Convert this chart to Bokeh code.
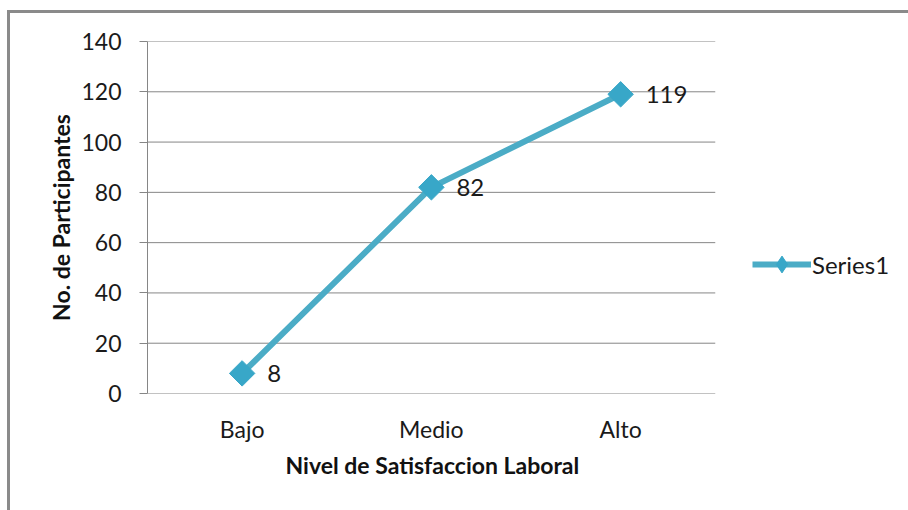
import math
from bokeh.plotting import figure
from bokeh.models import (ColumnDataSource, Range1d, FixedTicker, Legend, LegendItem,
                          LabelSet, Title)
from bokeh.core.properties import value
from bokeh.embed import file_html
from bokeh.resources import INLINE

# Data
categories = ["Bajo", "Medio", "Alto"]
participants = [8, 82, 119]
series_name = "Series1"
y_ticks = [0, 20, 40, 60, 80, 100, 120, 140]
x_title = "Nivel de Satisfaccion Laboral"
y_title = "No. de Participantes"

FONT = "Lato"
GRID = "#868686"
TEAL = "#4BACC6"
MARKER = "#38A7C8"
EDGE = "#8a8a8a"
TEXT = "#1a1a1a"

# Each category occupies one unit; the frame carries one extra unit on the
# right where the legend sits.
n_cat = len(categories)
x_pos = [i + 0.5 for i in range(n_cat)]

source = ColumnDataSource(dict(
    x=x_pos,
    val=participants,
    lbl=[str(v) for v in participants],
))
grid_src = ColumnDataSource(dict(
    x0=[0] * len(y_ticks), x1=[n_cat] * len(y_ticks), y=y_ticks,
))

p = figure(
    width=908, height=510,
    x_range=Range1d(0, n_cat + 1), y_range=Range1d(0, 140),
    output_backend="svg", toolbar_location=None,
    min_border_left=147, min_border_right=4,
    min_border_top=41, min_border_bottom=117,
    background_fill_color="white", border_fill_alpha=0,
)
# Chart-area edge on the left and top, painted behind the transparent canvas
p.styles = {
    "background": (
        f"linear-gradient({EDGE},{EDGE}) 7px 10px / 3px 700px no-repeat, "
        f"linear-gradient({EDGE},{EDGE}) 7px 10px / 1200px 3px no-repeat, white"
    )
}
p.outline_line_color = None
p.xgrid.grid_line_color = None
p.ygrid.grid_line_color = None

# Horizontal gridlines (the one at zero doubles as the category axis line)
p.segment("x0", "y", "x1", "y", source=grid_src, line_color=GRID, line_width=1)

# Value axis
yax = p.yaxis[0]
yax.ticker = FixedTicker(ticks=y_ticks)
yax.axis_label = y_title
yax.axis_line_color = GRID
yax.major_tick_line_color = GRID
yax.major_tick_out = 8
yax.major_tick_in = 0
yax.minor_tick_line_color = None
yax.major_label_standoff = 18
yax.axis_label_standoff = 3
yax.major_label_text_font = FONT
yax.major_label_text_font_size = "23px"
yax.major_label_text_color = TEXT
yax.axis_label_text_font = FONT
yax.axis_label_text_font_size = "23px"
yax.axis_label_text_font_style = "bold"
yax.axis_label_text_color = "#111111"

# Category axis: labels only
xax = p.xaxis[0]
xax.ticker = FixedTicker(ticks=x_pos)
xax.major_label_overrides = {x: c for x, c in zip(x_pos, categories)}
xax.axis_line_color = None
xax.major_tick_line_color = None
xax.minor_tick_line_color = None
xax.major_label_standoff = 15
xax.major_label_text_font = FONT
xax.major_label_text_font_size = "23px"
xax.major_label_text_color = TEXT

# Category axis title, placed under the plotted categories
p.add_layout(Title(text=x_title, align="left", offset=138, standoff=7,
                   text_font=FONT, text_font_size="23px", text_font_style="bold",
                   text_color="#111111"), "below")

# Series line; a diamond layer (covered by the rotated squares) supplies the
# legend's marker shape
line_r = p.line("x", "val", source=source, line_color=TEAL, line_width=6)
legend_mark_r = p.scatter("x", "val", source=source, marker="diamond", size=18,
                          fill_color=MARKER, line_color=MARKER)
mark_r = p.scatter("x", "val", source=source, marker="square", angle=math.pi / 4,
                   size=18, fill_color=MARKER, line_color=MARKER)

# Value labels beside each marker
labels = LabelSet(x="x", y="val", text="lbl", source=source,
                  x_offset=25, y_offset=0, text_align="left", text_baseline="middle",
                  text_font=value(FONT), text_font_size=value("24px"),
                  text_color=TEXT)
p.add_layout(labels)

# Legend to the right of the plotted categories
legend = Legend(items=[LegendItem(label=series_name, renderers=[line_r, legend_mark_r])],
                location=(605, 108), orientation="vertical",
                glyph_width=59, glyph_height=42, label_standoff=1,
                padding=0, margin=0, border_line_color=None,
                background_fill_alpha=0,
                label_text_font=FONT, label_text_font_size="24px",
                label_text_color=TEXT)
p.add_layout(legend, "center")

open("out.html", "w").write(file_html(p, INLINE))
